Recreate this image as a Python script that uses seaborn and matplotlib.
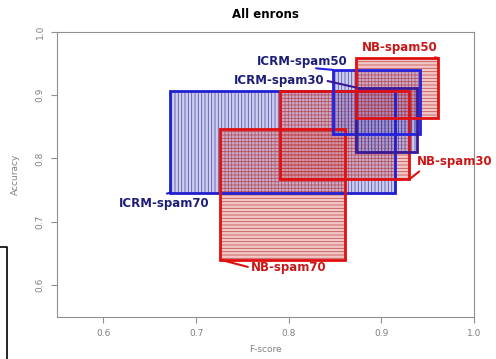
import matplotlib
matplotlib.use('Agg')
import matplotlib.pyplot as plt
import seaborn as sns
from matplotlib.lines import Line2D

# F-score / accuracy ranges per method (min, max)
methods = ['ICRM-spam70', 'NB-spam70', 'NB-spam30', 'ICRM-spam50', 'ICRM-spam30', 'NB-spam50']
f_low = [0.672, 0.726, 0.791, 0.848, 0.873, 0.873]
f_high = [0.915, 0.861, 0.930, 0.942, 0.938, 0.961]
acc_low = [0.746, 0.640, 0.767, 0.838, 0.810, 0.864]
acc_high = [0.907, 0.846, 0.907, 0.940, 0.912, 0.959]
x_ticks = [0.6, 0.7, 0.8, 0.9, 1.0]
y_ticks = [0.6, 0.7, 0.8, 0.9, 1.0]

sns.set_theme(style='white')
plt.rcParams['font.family'] = ['DejaVu Sans']
plt.rcParams['hatch.linewidth'] = 0.6

# styles: edge colour, fill, hatch colour, hatch, label colour
blue_fill = (0.55, 0.55, 0.88, 0.42)
red_fill = (0.88, 0.45, 0.45, 0.40)
blue_hatch = (0.20, 0.20, 0.55, 0.75)
red_hatch = (0.70, 0.15, 0.15, 0.70)
styles = {
    'ICRM-spam70': ('#1f1fcf', blue_fill, blue_hatch, '|||||', '#1e1e78'),
    'NB-spam70': ('#e01010', red_fill, red_hatch, '-----', '#c81818'),
    'NB-spam30': ('#e01010', red_fill, red_hatch, '-----', '#c81818'),
    'ICRM-spam50': ('#2222e0', blue_fill, blue_hatch, '|||||', '#1e1e78'),
    'ICRM-spam30': ('#3a1896', blue_fill, blue_hatch, '|||||', '#1e1e78'),
    'NB-spam50': ('#e01010', red_fill, red_hatch, '-----', '#c81818'),
}
# label placement: which corner, text offset (points), line start on text box
label_pos = {
    'ICRM-spam70': ('bl', (-4, -7.7), (0.4, 1.0)),
    'NB-spam70': ('bl', (49.5, -5.8), (0.0, 0.5)),
    'NB-spam30': ('br', (32.4, 12.7), (0.09, 0.0)),
    'ICRM-spam50': ('tl', (-22.2, 5.8), (0.65, 0.0)),
    'ICRM-spam30': ('tl', (-55.8, 5.3), (1.0, 0.5)),
    'NB-spam50': ('tr', (-27.6, 7.4), (0.7, 0.0)),
}

fig = plt.figure(figsize=(4.96, 3.59), dpi=100)
ax = fig.add_axes([0.115, 0.118, 0.841, 0.793])

for i, m in enumerate(methods):
    edge, fill, hcol, hatch, tcol = styles[m]
    w = f_high[i] - f_low[i]
    h = acc_high[i] - acc_low[i]
    ax.bar(f_low[i], h, width=w, bottom=acc_low[i], align='edge',
           color=fill, edgecolor=hcol, hatch=hatch, linewidth=0, zorder=2)
    ax.bar(f_low[i], h, width=w, bottom=acc_low[i], align='edge',
           fill=False, edgecolor=edge, linewidth=2, zorder=3)

for i, m in enumerate(methods):
    edge, fill, hcol, hatch, tcol = styles[m]
    corner, off, rel = label_pos[m]
    cx = f_low[i] if corner[1] == 'l' else f_high[i]
    cy = acc_low[i] if corner[0] == 'b' else acc_high[i]
    ax.annotate(m, xy=(cx, cy), xytext=off, textcoords='offset points',
                ha='center', va='center', fontsize=8.5, fontweight='bold', color=tcol,
                arrowprops=dict(arrowstyle='-', color=edge, lw=1.5, relpos=rel,
                                shrinkA=0, shrinkB=0), zorder=4)

ax.set_xlim(0.55, 1.0)
ax.set_ylim(0.55, 1.0)
ax.set_xticks(x_ticks)
ax.set_yticks(y_ticks)
ax.set_xticklabels([f'{t:.1f}' for t in x_ticks])
ax.set_yticklabels([f'{t:.1f}' for t in y_ticks], rotation=90, va='center')
ax.tick_params(axis='both', direction='out', length=4, width=0.8, color='#909090',
               labelsize=6.5, labelcolor='#808080', pad=5, left=True, bottom=True)
for s in ax.spines.values():
    s.set_color('#909090')
    s.set_linewidth(0.8)

ax.set_title('All enrons', fontsize=8.5, fontweight='bold', color='black', pad=10)
ax.set_xlabel('F-score', fontsize=6.5, color='#808080')
ax.set_ylabel('Accuracy', fontsize=6.5, color='#808080')
ax.xaxis.set_label_coords(0.5, -0.10)
ax.yaxis.set_label_coords(-0.09, 0.5)

# stray frame line at the left edge of the original image
fig.add_artist(Line2D([0, 7.3 / 496, 7.3 / 496], [1 - 247 / 359, 1 - 247 / 359, 0],
                      color='black', lw=1.2))

fig.savefig('out.png', dpi=100)
